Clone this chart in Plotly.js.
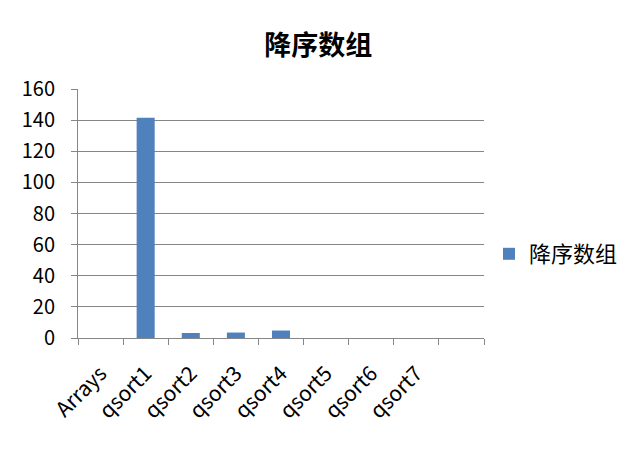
<!DOCTYPE html>
<html>
<head>
<meta charset="utf-8">
<script src="https://cdn.plot.ly/plotly-3.0.1.min.js"></script>
<style>
  html, body { margin: 0; padding: 0; background: #fff; }
  #chart { width: 623px; height: 459px; }
</style>
</head>
<body>
<div id="chart"></div>
<script>
const CHART = document.getElementById('chart');

// the last slot is an empty category, as in the source sheet
const categories = ['Arrays', 'qsort1', 'qsort2', 'qsort3', 'qsort4', 'qsort5', 'qsort6', 'qsort7', ' '];
const times = [0, 141.5, 3.2, 3.5, 4.8, 0, 0, 0, null];
const seriesName = '降序数组';

const BAR = '#4F81BD';
const GRID = '#868686';
const FONT = '"Noto Sans CJK SC", "Noto Sans", sans-serif';

const trace = [{
    x: categories,
    y: times,
    name: seriesName,
    type: 'bar',
    marker: { color: BAR },
    width: 0.4,
    showlegend: true
}];

const layout = {
    width: 623,
    height: 459,
    margin: { l: 78, r: 139, t: 89, b: 121 },
    paper_bgcolor: '#fff',
    plot_bgcolor: '#fff',
    font: { family: FONT, color: '#000', size: 20 },
    title: {
        text: '<b>' + seriesName + '</b>',
        font: { family: FONT, size: 27 },
        x: 0.511,
        xanchor: 'center',
        xref: 'container',
        y: 1 - 46 / 459,
        yanchor: 'middle',
        yref: 'container'
    },
    xaxis: {
        type: 'category',
        categoryorder: 'array',
        categoryarray: categories,
        tickson: 'boundaries',
        ticks: 'outside',
        ticklen: 6,
        tickcolor: GRID,
        showline: true,
        linecolor: GRID,
        tickangle: -45,
        ticklabelstandoff: 14,
        tickfont: { size: 21 },
        showgrid: false,
        automargin: false,
        fixedrange: true
    },
    yaxis: {
        range: [0, 160],
        dtick: 20,
        ticks: 'outside',
        ticklen: 6,
        tickcolor: GRID,
        showline: true,
        linecolor: GRID,
        gridcolor: GRID,
        zeroline: false,
        ticklabelstandoff: 12,
        tickfont: { size: 20 },
        automargin: false,
        fixedrange: true
    },
    legend: {
        xref: 'container',
        yref: 'container',
        x: 489 / 623,
        xanchor: 'left',
        y: 1 - 254 / 459,
        yanchor: 'middle',
        font: { size: 22 }
    },
    showlegend: true
};

Plotly.newPlot(CHART, trace, layout, { displayModeBar: false, staticPlot: true });
</script>
</body>
</html>
